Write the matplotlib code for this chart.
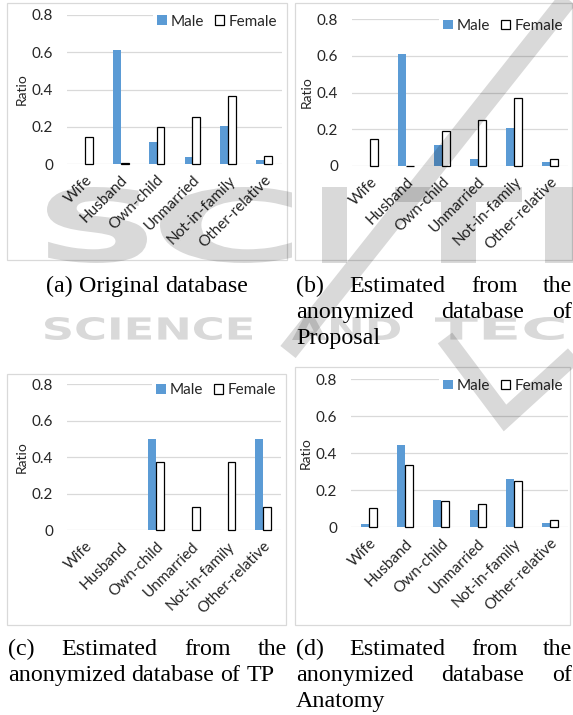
import matplotlib
matplotlib.use('Agg')
import matplotlib.pyplot as plt
import numpy as np
from matplotlib.patches import Rectangle, PathPatch, Patch
from matplotlib.textpath import TextPath
from matplotlib.font_manager import FontProperties
from matplotlib.transforms import Affine2D, ScaledTranslation

# ---------------- data ----------------
categories = ['Wife', 'Husband', 'Own-child', 'Unmarried', 'Not-in-family', 'Other-relative']
series_names = ['Male', 'Female']

male_a = [0.0, 0.611, 0.119, 0.036, 0.205, 0.021]
female_a = [0.143, 0.004, 0.200, 0.250, 0.367, 0.041]

male_b = [0.0, 0.608, 0.113, 0.035, 0.206, 0.022]
female_b = [0.144, -0.003, 0.189, 0.250, 0.372, 0.035]

male_c = [0.0, 0.0, 0.500, 0.0, 0.0, 0.500]
female_c = [0.0, 0.0, 0.375, 0.125, 0.375, 0.125]

male_d = [0.018, 0.447, 0.148, 0.094, 0.263, 0.022]
female_d = [0.103, 0.339, 0.140, 0.124, 0.250, 0.041]

y_ticks = [0, 0.2, 0.4, 0.6, 0.8]
y_tick_labels = ['0', '0.2', '0.4', '0.6', '0.8']
y_label = 'Ratio'

caption_a = ['(a) Original database']
caption_b = ['(b) Estimated from the', 'anonymized database of', 'Proposal']
caption_c = ['(c) Estimated from the', 'anonymized database of TP']
caption_d = ['(d) Estimated from the', 'anonymized database of', 'Anatomy']

# ---------------- layout ----------------
W, H = 573, 715
DPI = 100
fig = plt.figure(figsize=(W / DPI, H / DPI), dpi=DPI)
fig.patch.set_facecolor('white')

MALE_COLOR = '#5B9BD5'
GRID_COLOR = '#D9D9D9'
TEXT_COLOR = '#262626'
SANS = ['Lato', 'DejaVu Sans']
SERIF = ['Liberation Serif', 'DejaVu Serif']


def frect(l, t, r, b):
    return [l / W, 1 - b / H, (r - l) / W, (b - t) / H]


def draw_panel(box, axpx, male, female):
    l, t, r, b = box
    fig.add_artist(Rectangle((l / W, 1 - b / H), (r - l) / W, (b - t) / H,
                             transform=fig.transFigure, fill=False,
                             edgecolor=GRID_COLOR, linewidth=0.9, zorder=0))
    ax = fig.add_axes(frect(*axpx))
    ax.set_facecolor('none')
    x = np.arange(len(categories))
    w = 0.22
    ax.bar(x - w / 2, male, w, color=MALE_COLOR, linewidth=0, zorder=2)
    ax.bar(x + w / 2, female, w, facecolor='white', edgecolor='black',
           linewidth=[0.9 if v != 0 else 0 for v in female], zorder=2,
           clip_on=False)
    ax.set_xlim(-0.5, len(categories) - 0.5)
    ax.set_ylim(0, 0.8)
    ax.set_yticks(y_ticks)
    ax.set_yticklabels(y_tick_labels, fontsize=11, color=TEXT_COLOR, family=SANS)
    ax.yaxis.grid(True, color=GRID_COLOR, linewidth=0.9)
    ax.set_axisbelow(True)
    for s in ax.spines.values():
        s.set_visible(False)
    ax.tick_params(axis='y', length=0, pad=10)
    ax.tick_params(axis='x', length=0, pad=10)
    ax.set_xticks(x)
    ax.set_xticklabels(categories, rotation=45, ha='right', va='center',
                       rotation_mode='anchor', fontsize=11, color=TEXT_COLOR,
                       family=SANS)
    off = ScaledTranslation(5 / DPI, 0, fig.dpi_scale_trans)
    for lab in ax.get_xticklabels():
        lab.set_transform(lab.get_transform() + off)
    ax.set_ylabel(y_label, fontsize=10, color=TEXT_COLOR, family=SANS)
    axw = axpx[2] - axpx[0]
    axh = axpx[3] - axpx[1]
    ax.yaxis.set_label_coords(-39 / axw, 0.5)
    handles = [Patch(facecolor=MALE_COLOR, edgecolor='none'),
               Patch(facecolor='white', edgecolor='black', linewidth=0.9)]
    leg = ax.legend(handles, series_names, loc='center right',
                    bbox_to_anchor=(1.0, 1 - 6.5 / axh), ncol=2,
                    frameon=True, framealpha=1, fancybox=False,
                    borderpad=0.3, borderaxespad=0, handlelength=0.6,
                    handleheight=0.6, handletextpad=0.3, columnspacing=0.7,
                    prop={'family': SANS, 'size': 11})
    leg.get_frame().set_edgecolor('none')
    leg.get_frame().set_facecolor('white')
    for txt in leg.get_texts():
        txt.set_color(TEXT_COLOR)
    return ax


draw_panel((7, 3, 287, 260), (67, 15, 282, 164), male_a, female_a)
draw_panel((295, 3, 572, 260), (352, 19.3, 568, 165.7), male_b, female_b)
draw_panel((7, 374, 286, 625), (67, 384, 281, 530.3), male_c, female_c)
draw_panel((295, 367, 570, 625), (351, 379.3, 568, 527.3), male_d, female_d)

# ---------------- captions ----------------
renderer = fig.canvas.get_renderer()
CAP_SIZE = 17.3


def put_line(text, x0, x1, y, justify):
    words = text.split(' ')
    arts = []
    for wd in words:
        t = fig.text(0, 1 - y / H, wd, fontsize=CAP_SIZE, family=SERIF,
                     va='baseline', ha='left', color='black')
        arts.append(t)
    widths = [a.get_window_extent(renderer).width for a in arts]
    if justify and len(words) > 1:
        gap = (x1 - x0 - sum(widths)) / (len(words) - 1)
    else:
        sp = fig.text(0, 0, 'a a', fontsize=CAP_SIZE, family=SERIF)
        sp2 = fig.text(0, 0, 'aa', fontsize=CAP_SIZE, family=SERIF)
        gap = sp.get_window_extent(renderer).width - sp2.get_window_extent(renderer).width
        sp.remove()
        sp2.remove()
    cx = x0
    for a, wdt in zip(arts, widths):
        a.set_x(cx / W)
        cx += wdt + gap


put_line(caption_a[0], 46, 248, 292, False)
put_line(caption_b[0], 296, 572, 292, True)
put_line(caption_b[1], 296, 572, 318, True)
put_line(caption_b[2], 296, 572, 344, False)
put_line(caption_c[0], 8, 287, 655, True)
put_line(caption_c[1], 8, 287, 681, False)
put_line(caption_d[0], 296, 572, 655, True)
put_line(caption_d[1], 296, 572, 681, True)
put_line(caption_d[2], 296, 572, 707, False)

# ---------------- watermark overlay ----------------
ov = fig.add_axes([0, 0, 1, 1], zorder=20)
ov.set_xlim(0, W)
ov.set_ylim(H, 0)
ov.axis('off')
ov.patch.set_alpha(0)
WM_ALPHA = 0.15
wm_font = FontProperties(family='DejaVu Sans', weight='bold')


def fit_text(s, x0, y0, x1, y1):
    tp = TextPath((0, 0), s, size=100, prop=wm_font)
    bb = tp.get_extents()
    sx = (x1 - x0) / bb.width
    sy = (y1 - y0) / bb.height
    tr = Affine2D().translate(-bb.x0, -bb.y1).scale(sx, -sy).translate(x0, y0)
    p = tr.transform_path(tp)
    ov.add_patch(PathPatch(p, facecolor='black', alpha=WM_ALPHA, lw=0))


fit_text('S', 47, 187, 147, 263)
fit_text('C', 160, 187, 292, 263)
fit_text('I', 322, 187, 347, 263)
fit_text('T', 395, 187, 522, 263)
fit_text('E', 545, 187, 645, 263)
fit_text('SCIENCE', 45, 317, 252, 340)
fit_text('AND', 292, 317, 400, 340)
fit_text('TECH', 435, 317, 615, 340)
ov.plot([575, 288], [-10, 352], color='black', alpha=WM_ALPHA, lw=14,
        solid_capstyle='butt')
ov.plot([445, 505, 585], [338, 418, 345], color='black', alpha=WM_ALPHA,
        lw=13, solid_capstyle='butt', solid_joinstyle='miter')

fig.savefig('out.png', dpi=DPI, facecolor='white')
